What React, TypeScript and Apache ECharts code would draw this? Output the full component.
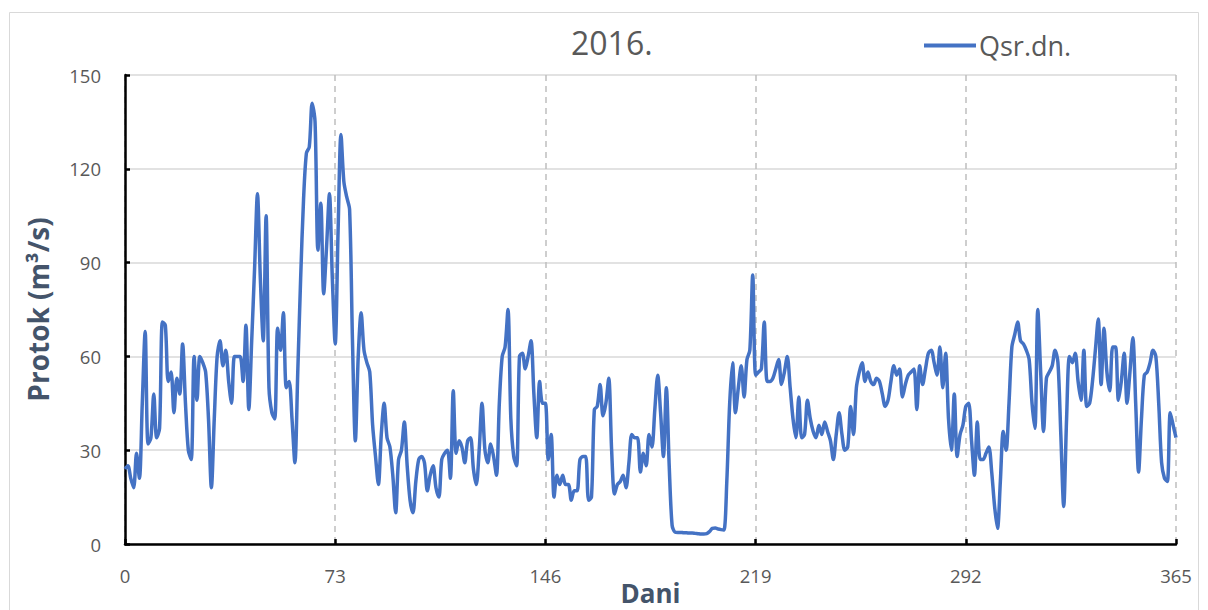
import React, { useEffect, useRef } from "react";
import * as echarts from "echarts";

const chartTitle = "2016.";
const seriesName = "Qsr.dn.";
const xAxisName = "Dani";
const yAxisName = "Protok (m³/s)";

// Daily mean discharge, day 0..365
const flow: number[] = [
  24, 25, 21, 18, 29, 21, 45, 68, 32, 34,
  48, 34, 37, 71, 70, 52, 55, 42, 53, 48,
  64, 45, 30, 27, 60, 46, 60, 58, 55, 40,
  18, 40, 60, 65, 57, 62, 52, 45, 60, 60,
  60, 52, 70, 43, 65, 88, 112, 85, 65, 105,
  50, 42, 40, 69, 62, 74, 50, 52, 40, 26,
  55, 85, 110, 125, 127, 141, 135, 94, 109, 80,
  95, 112, 85, 64, 100, 131, 116, 111, 107, 65,
  33, 60, 74, 62, 58, 55, 38, 28, 19, 35,
  45, 34, 31, 22, 10, 27, 30, 39, 25, 14,
  10, 20, 27, 28, 26, 17, 22, 25, 18, 15,
  27, 29, 30, 21, 49, 29, 33, 31, 26, 33,
  34, 24, 19, 30, 45, 30, 26, 32, 28, 22,
  45, 60, 63, 75, 40, 28, 25, 60, 61, 56,
  60, 65, 48, 34, 52, 45, 45, 27, 35, 15,
  22, 19, 22, 19, 19, 14, 17, 17, 27, 28,
  28, 14, 15, 43, 44, 51, 41, 45, 53, 30,
  16, 19, 20, 22, 18, 26, 35, 34, 34, 23,
  29, 25, 35, 31, 43, 54, 42, 28, 50, 25,
  6, 3.8, 3.7, 3.7, 3.6, 3.6, 3.5, 3.5, 3.4, 3.3,
  3.2, 3.2, 3.3, 4, 5, 5.1, 4.8, 4.6, 4.5, 20,
  45, 58, 42, 50, 57, 47, 59, 62, 86, 54,
  55, 56, 71, 52, 52, 53, 56, 59, 51, 55,
  60, 50, 40, 34, 47, 34, 35, 46, 40, 36,
  34, 38, 35, 39, 36, 33, 27, 35, 42, 35,
  30, 31, 44, 35, 50, 55, 58, 52, 55, 52,
  51, 53, 52, 48, 44, 46, 52, 57, 54, 56,
  47, 51, 54, 55, 56, 43, 57, 51, 56, 61,
  62, 58, 54, 63, 50, 61, 40, 30, 48, 28,
  35, 38, 44, 45, 33, 22, 39, 27, 27, 29,
  31, 23, 12, 5, 20, 36, 30, 45, 63, 67,
  71, 65, 64, 62, 59, 45, 37, 75, 55, 36,
  53, 55, 57, 62, 58, 35, 12, 40, 60, 58,
  61, 52, 46, 62, 44, 45, 52, 62, 72, 51,
  69, 55, 49, 63, 63, 46, 52, 61, 45, 55,
  66, 45, 23, 40, 54, 55, 58, 62, 60, 45,
  26, 21, 20, 42, 38, 34,
];

const xMin = 0;
const xMax = 365;
const xStep = 73;
const yMin = 0;
const yMax = 150;
const yStep = 30;

const FONT = '"Open Sans", "Noto Sans", sans-serif';

export default function App() {
  const ref = useRef<HTMLDivElement>(null);

  useEffect(() => {
    if (!ref.current) return;
    const chart = echarts.init(ref.current, null, { renderer: "svg" });
    const data = flow.map((v, i) => [i, v]);
    chart.setOption({
      animation: false,
      backgroundColor: "#ffffff",
      graphic: [
        {
          type: "rect",
          shape: { x: 9.5, y: 12.5, width: 1189, height: 640 },
          style: { fill: "none", stroke: "#d9d9d9", lineWidth: 1 },
          silent: true,
          z: -1,
        },
      ],
      title: {
        text: chartTitle,
        left: 571,
        top: 26,
        padding: 0,
        textStyle: {
          fontFamily: FONT,
          fontSize: 32,
          fontWeight: "normal",
          color: "#595959",
        },
      },
      legend: {
        left: 924,
        top: 32,
        padding: 0,
        itemWidth: 52,
        itemHeight: 4,
        itemGap: 4,
        textStyle: {
          fontFamily: FONT,
          fontSize: 27,
          color: "#595959",
          padding: [0, 0, 0, -2],
        },
        data: [{ name: seriesName, icon: "rect" }],
      },
      grid: {
        left: 125,
        right: 32,
        top: 75,
        bottom: 66,
        containLabel: false,
        outerBoundsMode: "none",
      },
      xAxis: {
        type: "value",
        min: xMin,
        max: xMax,
        interval: xStep,
        name: xAxisName,
        nameLocation: "middle",
        nameGap: 36,
        nameMoveOverlap: false,
        nameTextStyle: {
          fontFamily: FONT,
          fontSize: 26,
          fontWeight: "bold",
          color: "#44546a",
        },
        axisLine: {
          show: true,
          onZero: false,
          lineStyle: { color: "#000000", width: 2.5 },
        },
        axisTick: {
          show: true,
          inside: true,
          length: 5,
          lineStyle: { color: "#000000", width: 2.5 },
        },
        axisLabel: {
          fontFamily: FONT,
          fontSize: 18.5,
          color: "#595959",
          margin: 22,
        },
        splitLine: {
          show: true,
          lineStyle: { color: "#bfbfbf", width: 1.5, type: [6, 5] },
        },
      },
      yAxis: {
        type: "value",
        min: yMin,
        max: yMax,
        interval: yStep,
        name: yAxisName,
        nameLocation: "middle",
        nameGap: 73,
        nameMoveOverlap: false,
        nameTextStyle: {
          fontFamily: FONT,
          fontSize: 28,
          fontWeight: "bold",
          color: "#44546a",
        },
        axisLine: {
          show: true,
          lineStyle: { color: "#000000", width: 2.5 },
        },
        axisTick: {
          show: true,
          inside: true,
          length: 5,
          lineStyle: { color: "#000000", width: 2.5 },
        },
        axisLabel: {
          fontFamily: FONT,
          fontSize: 18.5,
          color: "#595959",
          margin: 24,
        },
        splitLine: {
          show: true,
          lineStyle: { color: "#d9d9d9", width: 1.5, type: "solid" },
        },
      },
      series: [
        {
          name: seriesName,
          type: "line",
          data,
          smooth: 0.3,
          symbol: "none",
          lineStyle: { color: "#4472c4", width: 3.5 },
          itemStyle: { color: "#4472c4" },
          z: 3,
        },
      ],
    });
    return () => {
      chart.dispose();
    };
  }, []);

  return (
    <div
      ref={ref}
      style={{
        position: "fixed",
        left: 0,
        top: 0,
        width: 1208,
        height: 610,
        background: "#ffffff",
      }}
    />
  );
}
